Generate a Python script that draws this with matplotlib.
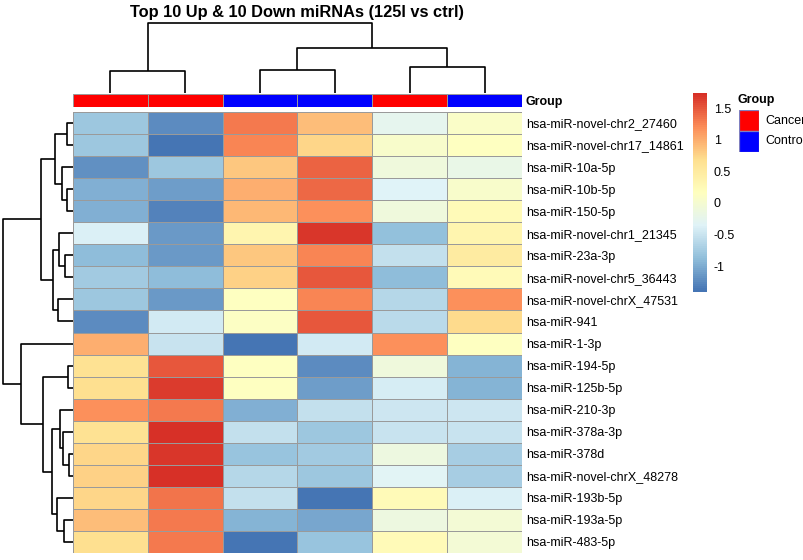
import numpy as np
import matplotlib
matplotlib.use("Agg")
import matplotlib.pyplot as plt
from matplotlib.colors import LinearSegmentedColormap
from matplotlib.patches import Rectangle

plt.rcParams['font.family'] = ['Liberation Sans', 'DejaVu Sans']

# ---------------- data ----------------
title = "Top 10 Up & 10 Down miRNAs (125l vs ctrl)"
row_labels = [
    "hsa-miR-novel-chr2_27460", "hsa-miR-novel-chr17_14861", "hsa-miR-10a-5p",
    "hsa-miR-10b-5p", "hsa-miR-150-5p", "hsa-miR-novel-chr1_21345", "hsa-miR-23a-3p",
    "hsa-miR-novel-chr5_36443", "hsa-miR-novel-chrX_47531", "hsa-miR-941",
    "hsa-miR-1-3p", "hsa-miR-194-5p", "hsa-miR-125b-5p", "hsa-miR-210-3p",
    "hsa-miR-378a-3p", "hsa-miR-378d", "hsa-miR-novel-chrX_48278",
    "hsa-miR-193b-5p", "hsa-miR-193a-5p", "hsa-miR-483-5p",
]
col_groups = ["Cancer", "Cancer", "Control", "Control", "Cancer", "Control"]
group_colors = {"Cancer": "#FF0000", "Control": "#0000FF"}

values = np.array([
    [-0.80, -1.25,  1.30,  0.90, -0.25,  0.10],
    [-0.80, -1.40,  1.25,  0.75,  0.05,  0.15],
    [-1.20, -0.80,  0.85,  1.45, -0.10, -0.20],
    [-1.00, -1.10,  1.00,  1.40, -0.35,  0.05],
    [-1.00, -1.30,  0.95,  1.20, -0.10,  0.25],
    [-0.40, -1.15,  0.35,  1.70, -0.85,  0.35],
    [-0.90, -1.15,  0.85,  1.25, -0.55,  0.50],
    [-0.75, -0.88,  0.78,  1.50, -0.88,  0.25],
    [-0.80, -1.15,  0.15,  1.25, -0.65,  1.20],
    [-1.25, -0.45,  0.12,  1.50, -0.62,  0.72],
    [ 1.00, -0.50, -1.40, -0.45,  1.20,  0.15],
    [ 0.65,  1.50,  0.15, -1.25, -0.10, -0.95],
    [ 0.68,  1.65,  0.15, -1.10, -0.43, -0.95],
    [ 1.20,  1.32, -1.00, -0.55, -0.48, -0.49],
    [ 0.65,  1.72, -0.55, -0.80, -0.52, -0.50],
    [ 0.75,  1.68, -0.82, -0.75, -0.12, -0.74],
    [ 0.78,  1.72, -0.64, -0.80, -0.32, -0.74],
    [ 0.75,  1.35, -0.55, -1.41,  0.25, -0.40],
    [ 0.90,  1.30, -0.95, -1.05, -0.15, -0.05],
    [ 0.70,  1.30, -1.38, -0.82,  0.25, -0.05],
])

# row dendrogram merges (left, right, height); leaves 0..19, clusters 20..
row_merges = [
    (0, 1, 6), (3, 4, 6), (2, 21, 11), (20, 22, 18),
    (6, 7, 8), (5, 24, 14), (8, 9, 15), (25, 26, 20), (23, 27, 32),
    (11, 12, 5), (15, 16, 4), (14, 30, 10), (13, 31, 13),
    (18, 19, 9), (17, 33, 16), (32, 34, 21), (29, 35, 30),
    (10, 36, 52), (28, 37, 70),
]
# column dendrogram merges
col_merges = [(0, 1, 22), (2, 3, 23), (4, 5, 26), (7, 8, 45), (6, 9, 70)]

cbar_ticks = [-1, -0.5, 0, 0.5, 1, 1.5]
vmin, vmax = -1.41, 1.74

# ---------------- figure ----------------
W, H = 804, 560
fig = plt.figure(figsize=(W / 100, H / 100), dpi=100)


def ax_px(x0, y0, x1, y1):
    return fig.add_axes([x0 / W, 1 - y1 / H, (x1 - x0) / W, (y1 - y0) / H])


cmap = LinearSegmentedColormap.from_list(
    "rdylbu", ["#4575B4", "#91BFDB", "#E0F3F8", "#FFFFBF", "#FEE090", "#FC8D59", "#D73027"], N=100)

nr, nc = values.shape
hx0, hx1, hy0, hy1 = 73, 522, 112, 553

# heatmap
axh = ax_px(hx0, hy0, hx1, hy1)
axh.pcolormesh(np.arange(nc + 1) - 0.5, np.arange(nr + 1) - 0.5, values, cmap=cmap,
               vmin=vmin, vmax=vmax, edgecolors="#9a9a9a", linewidth=0.7)
axh.set_xlim(-0.5, nc - 0.5)
axh.set_ylim(nr - 0.5, -0.5)
axh.set_xticks([])
axh.yaxis.tick_right()
axh.set_yticks(range(nr))
axh.set_yticklabels(row_labels, fontsize=9)
axh.tick_params(axis="y", length=0, pad=3)
for s in axh.spines.values():
    s.set_visible(False)

# annotation bar
axa = ax_px(hx0, 94, hx1, 107)
for j, g in enumerate(col_groups):
    axa.add_patch(Rectangle((j - 0.5, 0), 1, 1, facecolor=group_colors[g],
                            edgecolor="#9a9a9a", linewidth=0.7))
axa.set_xlim(-0.5, nc - 0.5)
axa.set_ylim(0, 1)
axa.axis("off")
fig.text(526 / W, 1 - 102 / H, "Group", fontsize=9, fontweight="bold", va="center", ha="left")


def dendro_coords(merges, n):
    pos = {i: float(i) for i in range(n)}
    hgt = {i: 0.0 for i in range(n)}
    segs = []
    for k, (a, b, h) in enumerate(merges):
        node = n + k
        segs.append(((pos[a], hgt[a]), (pos[a], h), (pos[b], h), (pos[b], hgt[b])))
        pos[node] = (pos[a] + pos[b]) / 2
        hgt[node] = h
    return segs


# column dendrogram
axc = ax_px(hx0, 20, hx1, 93)
for seg in dendro_coords(col_merges, nc):
    xs = [p[0] for p in seg]
    ys = [p[1] for p in seg]
    axc.plot(xs, ys, color="black", lw=1.2, solid_capstyle="butt", clip_on=False)
axc.set_xlim(-0.5, nc - 0.5)
axc.set_ylim(0, 73)
axc.axis("off")

# row dendrogram
axr = ax_px(2, hy0, hx0, hy1)
for seg in dendro_coords(row_merges, nr):
    xs = [p[1] for p in seg]
    ys = [p[0] for p in seg]
    axr.plot(xs, ys, color="black", lw=1.2, solid_capstyle="butt", clip_on=False)
axr.set_xlim(71, 0)
axr.set_ylim(nr - 0.5, -0.5)
axr.axis("off")

# title
fig.text((hx0 + hx1) / 2 / W, 1 - 12 / H, title, fontsize=11.8, fontweight="bold",
         ha="center", va="center")

# colorbar
axcb = ax_px(693, 93, 707, 292)
grad = np.linspace(vmin, vmax, 200).reshape(-1, 1)
axcb.imshow(grad, aspect="auto", cmap=cmap, vmin=vmin, vmax=vmax, origin="lower",
            extent=[0, 1, vmin, vmax])
axcb.set_xticks([])
axcb.yaxis.tick_right()
axcb.set_yticks(cbar_ticks)
axcb.set_yticklabels([f"{t:g}" for t in cbar_ticks], fontsize=9)
axcb.tick_params(axis="y", length=0, pad=5)
for s in axcb.spines.values():
    s.set_visible(False)

# legend
fig.text(738 / W, 1 - 100 / H, "Group", fontsize=9, fontweight="bold", va="center", ha="left")
axl = ax_px(739, 110, 759, 152)
for i, g in enumerate(["Cancer", "Control"]):
    axl.add_patch(Rectangle((0, 1 - i - 1), 1, 1, facecolor=group_colors[g],
                            edgecolor="#8080C0", linewidth=0.9))
    axl.text(1.3, 0.5 - i, g, fontsize=9, va="center", ha="left", clip_on=False)
axl.set_xlim(0, 1)
axl.set_ylim(-1, 1)
axl.axis("off")

fig.savefig("out.png", dpi=100)
